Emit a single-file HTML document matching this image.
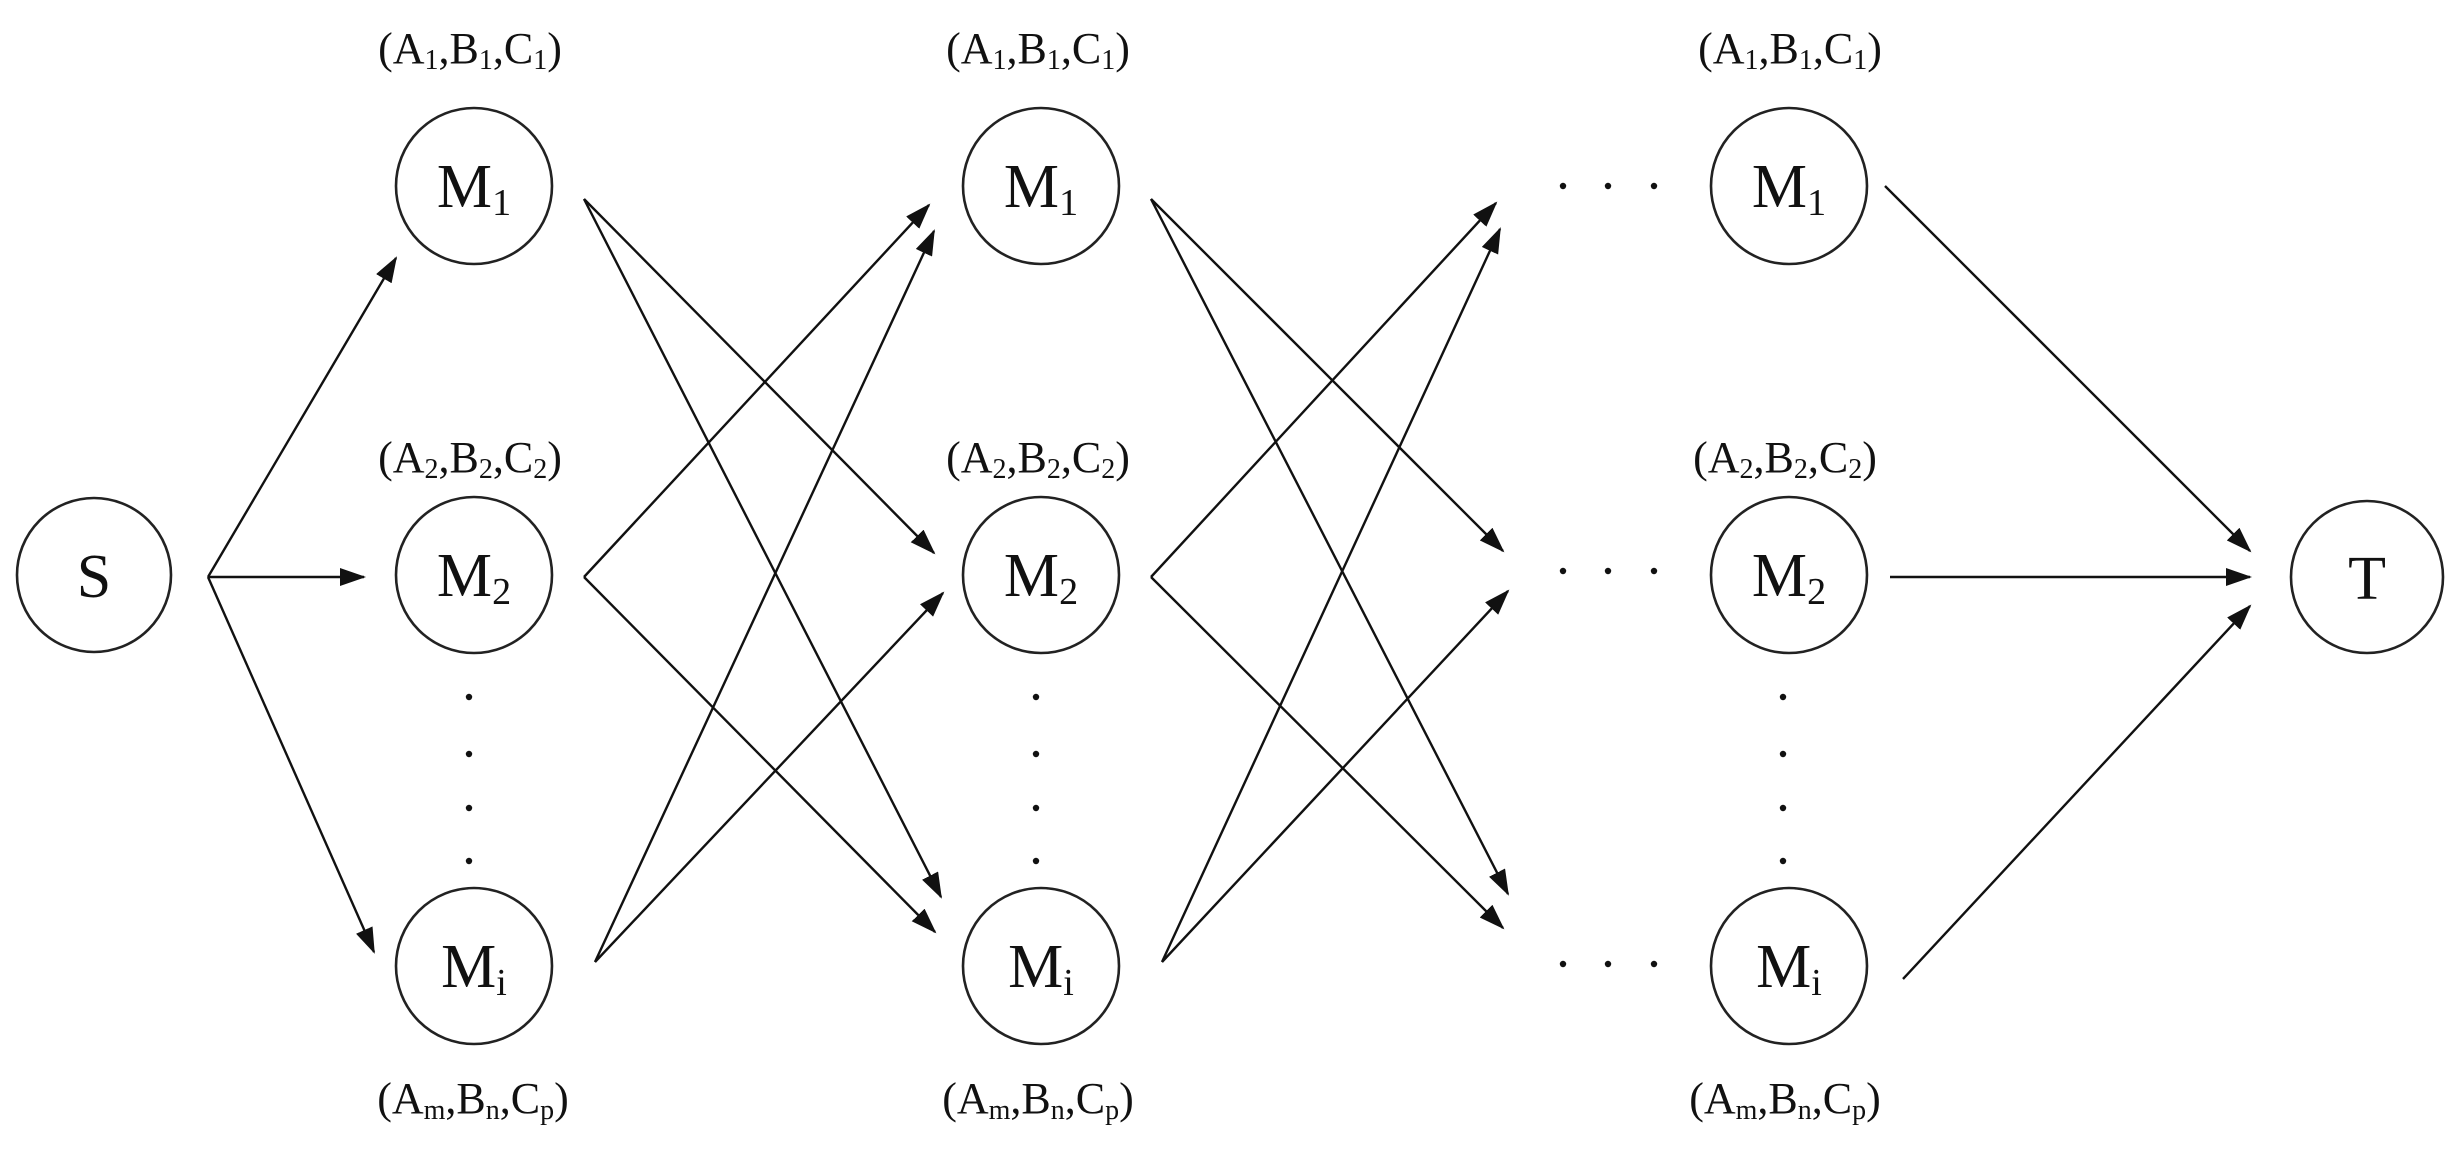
<!DOCTYPE html>
<html><head><meta charset="utf-8"><style>
html,body{margin:0;padding:0;background:#fff;}
svg{display:block;}
text{font-family:"Liberation Serif",serif;fill:#111;}
.n{font-size:62px;}
.l{font-size:44px;}
</style></head><body>
<svg width="2455" height="1151" viewBox="0 0 2455 1151" xmlns="http://www.w3.org/2000/svg">
<defs>
<marker id="a" markerUnits="userSpaceOnUse" markerWidth="26" markerHeight="18" refX="24" refY="9" orient="auto">
<path d="M0,0 L26,9 L0,18 Z" fill="#111"/>
</marker>
</defs>
<g fill="none" stroke="#222" stroke-width="2.6">
<circle cx="94" cy="575" r="77"/>
<circle cx="474" cy="186" r="78"/><circle cx="474" cy="575" r="78"/><circle cx="474" cy="966" r="78"/>
<circle cx="1041" cy="186" r="78"/><circle cx="1041" cy="575" r="78"/><circle cx="1041" cy="966" r="78"/>
<circle cx="1789" cy="186" r="78"/><circle cx="1789" cy="575" r="78"/><circle cx="1789" cy="966" r="78"/>
<circle cx="2367" cy="577" r="76"/>
</g>
<g stroke="#111" stroke-width="2.4" marker-end="url(#a)">
<line x1="208" y1="577" x2="396" y2="258"/>
<line x1="208" y1="577" x2="364" y2="577"/>
<line x1="208" y1="577" x2="374" y2="952"/>
<line x1="584" y1="199" x2="934" y2="553"/>
<line x1="584" y1="199" x2="941" y2="897"/>
<line x1="584" y1="577" x2="929" y2="205"/>
<line x1="584" y1="577" x2="935" y2="932"/>
<line x1="595" y1="962" x2="934" y2="231"/>
<line x1="595" y1="962" x2="943" y2="593"/>
<line x1="1151" y1="199" x2="1503" y2="551"/>
<line x1="1151" y1="199" x2="1508" y2="894"/>
<line x1="1151" y1="577" x2="1496" y2="203"/>
<line x1="1151" y1="577" x2="1503" y2="928"/>
<line x1="1162" y1="962" x2="1500" y2="229"/>
<line x1="1162" y1="962" x2="1508" y2="591"/>
<line x1="1885" y1="186" x2="2250" y2="551"/>
<line x1="1890" y1="577" x2="2250" y2="577"/>
<line x1="1903" y1="979" x2="2250" y2="606"/>
</g>
<g fill="#111">
<circle cx="469" cy="697" r="3.2"/><circle cx="469" cy="754" r="3.2"/><circle cx="469" cy="808" r="3.2"/><circle cx="469" cy="861" r="3.2"/>
<circle cx="1036" cy="697" r="3.2"/><circle cx="1036" cy="754" r="3.2"/><circle cx="1036" cy="808" r="3.2"/><circle cx="1036" cy="861" r="3.2"/>
<circle cx="1783" cy="697" r="3.2"/><circle cx="1783" cy="754" r="3.2"/><circle cx="1783" cy="808" r="3.2"/><circle cx="1783" cy="861" r="3.2"/>
<circle cx="1563" cy="186" r="3.2"/><circle cx="1608" cy="186" r="3.2"/><circle cx="1654" cy="186" r="3.2"/>
<circle cx="1563" cy="571" r="3.2"/><circle cx="1608" cy="571" r="3.2"/><circle cx="1654" cy="571" r="3.2"/>
<circle cx="1563" cy="964" r="3.2"/><circle cx="1608" cy="964" r="3.2"/><circle cx="1654" cy="964" r="3.2"/>
</g>
<text class="n" x="94" y="597" text-anchor="middle">S</text>
<text class="n" x="2367" y="599" text-anchor="middle">T</text>
<g text-anchor="middle">
<text class="n" x="474" y="207">M<tspan font-size="38" dy="8">1</tspan></text>
<text class="n" x="474" y="596">M<tspan font-size="38" dy="8">2</tspan></text>
<text class="n" x="474" y="987">M<tspan font-size="38" dy="8">i</tspan></text>
<text class="n" x="1041" y="207">M<tspan font-size="38" dy="8">1</tspan></text>
<text class="n" x="1041" y="596">M<tspan font-size="38" dy="8">2</tspan></text>
<text class="n" x="1041" y="987">M<tspan font-size="38" dy="8">i</tspan></text>
<text class="n" x="1789" y="207">M<tspan font-size="38" dy="8">1</tspan></text>
<text class="n" x="1789" y="596">M<tspan font-size="38" dy="8">2</tspan></text>
<text class="n" x="1789" y="987">M<tspan font-size="38" dy="8">i</tspan></text>
</g>
<g class="lbl" text-anchor="middle">
<text class="l" x="470" y="63">(A<tspan font-size="28" dy="6">1</tspan><tspan dy="-6">,B</tspan><tspan font-size="28" dy="6">1</tspan><tspan dy="-6">,C</tspan><tspan font-size="28" dy="6">1</tspan><tspan dy="-6">)</tspan></text>
<text class="l" x="1038" y="63">(A<tspan font-size="28" dy="6">1</tspan><tspan dy="-6">,B</tspan><tspan font-size="28" dy="6">1</tspan><tspan dy="-6">,C</tspan><tspan font-size="28" dy="6">1</tspan><tspan dy="-6">)</tspan></text>
<text class="l" x="1790" y="63">(A<tspan font-size="28" dy="6">1</tspan><tspan dy="-6">,B</tspan><tspan font-size="28" dy="6">1</tspan><tspan dy="-6">,C</tspan><tspan font-size="28" dy="6">1</tspan><tspan dy="-6">)</tspan></text>
<text class="l" x="470" y="472">(A<tspan font-size="28" dy="6">2</tspan><tspan dy="-6">,B</tspan><tspan font-size="28" dy="6">2</tspan><tspan dy="-6">,C</tspan><tspan font-size="28" dy="6">2</tspan><tspan dy="-6">)</tspan></text>
<text class="l" x="1038" y="472">(A<tspan font-size="28" dy="6">2</tspan><tspan dy="-6">,B</tspan><tspan font-size="28" dy="6">2</tspan><tspan dy="-6">,C</tspan><tspan font-size="28" dy="6">2</tspan><tspan dy="-6">)</tspan></text>
<text class="l" x="1785" y="472">(A<tspan font-size="28" dy="6">2</tspan><tspan dy="-6">,B</tspan><tspan font-size="28" dy="6">2</tspan><tspan dy="-6">,C</tspan><tspan font-size="28" dy="6">2</tspan><tspan dy="-6">)</tspan></text>
<text class="l" x="473" y="1113">(A<tspan font-size="28" dy="6">m</tspan><tspan dy="-6">,B</tspan><tspan font-size="28" dy="6">n</tspan><tspan dy="-6">,C</tspan><tspan font-size="28" dy="6">p</tspan><tspan dy="-6">)</tspan></text>
<text class="l" x="1038" y="1113">(A<tspan font-size="28" dy="6">m</tspan><tspan dy="-6">,B</tspan><tspan font-size="28" dy="6">n</tspan><tspan dy="-6">,C</tspan><tspan font-size="28" dy="6">p</tspan><tspan dy="-6">)</tspan></text>
<text class="l" x="1785" y="1113">(A<tspan font-size="28" dy="6">m</tspan><tspan dy="-6">,B</tspan><tspan font-size="28" dy="6">n</tspan><tspan dy="-6">,C</tspan><tspan font-size="28" dy="6">p</tspan><tspan dy="-6">)</tspan></text>
</g>
</svg>
</body></html>
